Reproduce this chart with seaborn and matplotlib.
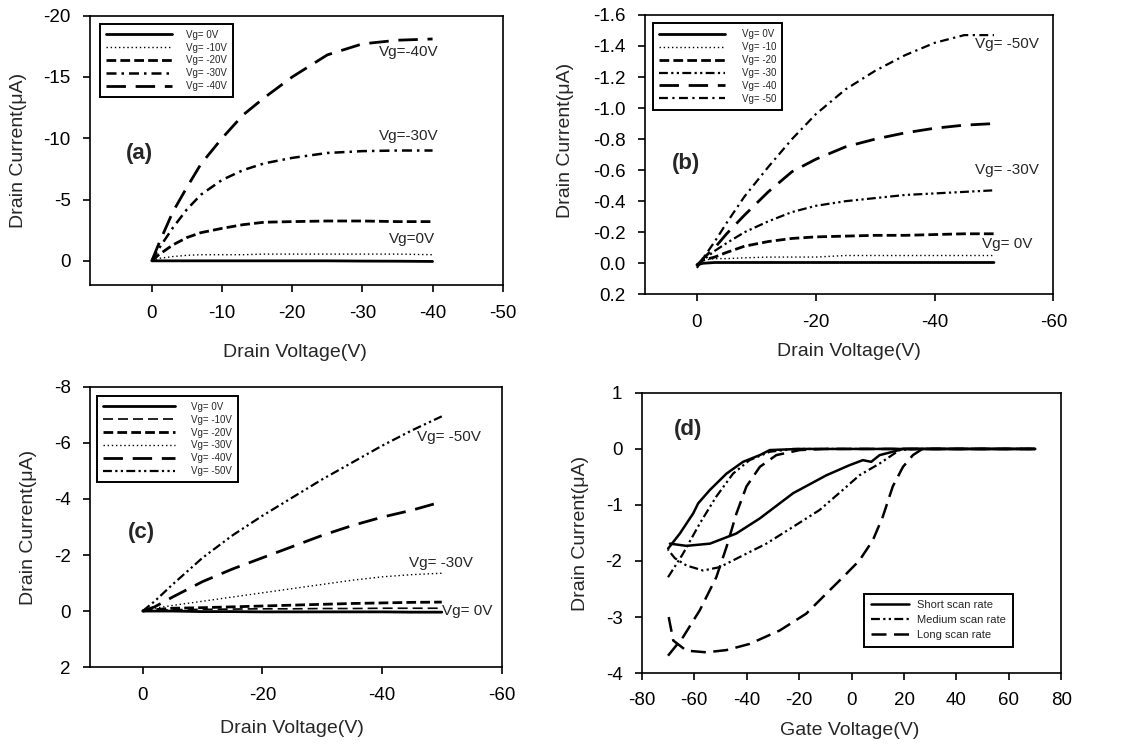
import numpy as np
import pandas as pd
import matplotlib
matplotlib.use("Agg")
import matplotlib.pyplot as plt
import seaborn as sns

sns.set_style("ticks")
plt.rcParams['font.family'] = ['Liberation Sans', 'DejaVu Sans']
plt.rcParams['axes.unicode_minus'] = False

# ---------------- data ----------------
# panel (a)
vd_a = [0, -1, -3, -5, -7, -10, -13, -16, -20, -25, -30, -35, -40]
a_vg0 = [0, 0, 0, 0, 0, 0, 0, 0, 0, 0, 0.02, 0.03, 0.05]
a_vg10 = [0, -0.2, -0.35, -0.45, -0.5, -0.5, -0.5, -0.55, -0.55, -0.55, -0.55, -0.55, -0.5]
a_vg20 = [0, -0.5, -1.3, -1.9, -2.3, -2.65, -2.95, -3.15, -3.2, -3.25, -3.25, -3.2, -3.2]
a_vg30 = [0, -1.0, -2.7, -4.2, -5.4, -6.6, -7.4, -7.95, -8.4, -8.8, -8.95, -9.0, -9.0]
a_vg40 = [0, -1.4, -4.0, -6.0, -7.9, -10.0, -11.9, -13.3, -15.0, -16.8, -17.7, -18.0, -18.1]
labels_a = ["Vg= 0V", "Vg= -10V", "Vg= -20V", "Vg= -30V", "Vg= -40V"]

# panel (b)
vd_b = [0, -1, -3, -5, -8, -12, -16, -20, -25, -30, -35, -40, -45, -50]
b_vg0 = [0.01, 0, -0.005, -0.005, -0.005, -0.005, -0.005, -0.005, -0.005, -0.005, -0.005, -0.005, -0.005, -0.005]
b_vg10 = [0.01, -0.02, -0.03, -0.03, -0.035, -0.04, -0.04, -0.04, -0.05, -0.05, -0.05, -0.05, -0.05, -0.05]
b_vg20 = [0.01, -0.02, -0.04, -0.07, -0.11, -0.14, -0.16, -0.17, -0.175, -0.18, -0.18, -0.185, -0.19, -0.19]
b_vg30 = [0.02, -0.02, -0.08, -0.13, -0.2, -0.27, -0.33, -0.37, -0.40, -0.42, -0.44, -0.45, -0.46, -0.47]
b_vg40 = [0.02, -0.03, -0.1, -0.19, -0.31, -0.46, -0.59, -0.67, -0.75, -0.80, -0.84, -0.87, -0.89, -0.90]
b_vg50 = [0.03, -0.03, -0.14, -0.26, -0.43, -0.62, -0.80, -0.96, -1.12, -1.24, -1.34, -1.42, -1.47, -1.47]
labels_b = ["Vg= 0V", "Vg= -10", "Vg= -20", "Vg= -30", "Vg= -40", "Vg= -50"]

# panel (c)
vd_c = [0, -2, -5, -10, -15, -20, -25, -30, -35, -40, -45, -50]
c_vg0 = [0, 0, 0, 0.02, 0.02, 0.03, 0.03, 0.03, 0.03, 0.03, 0.04, 0.04]
c_vg10 = [0, -0.03, -0.05, -0.06, -0.07, -0.08, -0.08, -0.09, -0.09, -0.1, -0.1, -0.1]
c_vg20 = [0, -0.05, -0.1, -0.12, -0.15, -0.18, -0.21, -0.24, -0.27, -0.29, -0.31, -0.32]
c_vg30 = [0, -0.1, -0.2, -0.35, -0.5, -0.65, -0.8, -0.95, -1.1, -1.22, -1.3, -1.35]
c_vg40 = [0, -0.15, -0.5, -1.05, -1.5, -1.9, -2.3, -2.7, -3.05, -3.35, -3.6, -3.9]
c_vg50 = [0, -0.35, -0.95, -1.9, -2.7, -3.4, -4.05, -4.7, -5.3, -5.9, -6.45, -6.95]
labels_c = ["Vg= 0V", "Vg= -10V", "Vg= -20V", "Vg= -30V", "Vg= -40V", "Vg= -50V"]

# panel (d) transfer curves (two sweep branches each)
short_down_vg = [70, 40, 19.6, 15.7, 10.7, 7.5, 4.3, -0.8, -9.6, -22.3, -35, -44, -54, -63, -69.3]
short_down_id = [0, 0, 0, -0.05, -0.11, -0.23, -0.2, -0.29, -0.47, -0.79, -1.24, -1.51, -1.69, -1.73, -1.69]
short_up_vg = [-70, -65.5, -60.4, -58.5, -54, -47.7, -41.4, -35, -31.2, -20, 70]
short_up_id = [-1.78, -1.51, -1.15, -0.97, -0.73, -0.44, -0.23, -0.11, -0.02, 0, 0]

medium_down_vg = [70, 40, 25, 18.3, 10.7, 3, -3.3, -12.2, -22.3, -32.5, -42.7, -50.3, -56.6, -63, -67.4, -70]
medium_down_id = [0, 0, 0, -0.02, -0.26, -0.47, -0.73, -1.09, -1.39, -1.69, -1.93, -2.11, -2.17, -2.08, -1.95, -1.8]
medium_up_vg = [-70, -64.3, -57.9, -51.6, -45.2, -38.9, -31.2, -22.3, 70]
medium_up_id = [-2.29, -1.87, -1.33, -0.85, -0.44, -0.2, -0.05, 0, 0]

long_down_vg = [70, 27, 23.4, 19.6, 15.7, 11.9, 8.1, 3, -3.3, -9.6, -17.3, -27.4, -38.9, -47.7, -55.4, -63, -68, -70]
long_down_id = [0, 0, -0.11, -0.32, -0.67, -1.21, -1.63, -1.99, -2.29, -2.58, -2.94, -3.24, -3.48, -3.59, -3.63, -3.6, -3.42, -2.94]
long_up_vg = [-70, -64.3, -57.9, -51.6, -47.7, -43.9, -40.1, -35, -28.7, -19.8, -10, 70]
long_up_id = [-3.69, -3.36, -2.88, -2.29, -1.75, -1.15, -0.67, -0.32, -0.11, -0.02, 0, 0]
labels_d = ["Short scan rate", "Medium scan rate", "Long scan rate"]

# ---------------- figure ----------------
fig = plt.figure(figsize=(11.4, 7.47), dpi=100)
axA = fig.add_axes([0.079, 0.618, 0.362, 0.361])
axB = fig.add_axes([0.566, 0.606, 0.358, 0.374])
axC = fig.add_axes([0.079, 0.107, 0.361, 0.375])
axD = fig.add_axes([0.563, 0.099, 0.368, 0.375])

TICK_FS = 13.5
LAB_FS = 14

SOLID = "-"
DOT = (0, (1, 2))
SHORTDASH = (0, (3.5, 1.5))
DASHDOT = (0, (4, 2, 1, 2))
DASHDOTDOT = (0, (4, 1.5, 1, 1.5, 1, 1.5))
LONGDASH = (0, (7, 3.5))
MEDDASH = (0, (6, 3))


def draw_series(ax, x, ys, labels, styles):
    handles = []
    for y, lab, (ls, lw) in zip(ys, labels, styles):
        df = pd.DataFrame({"x": x, "y": y})
        sns.lineplot(data=df, x="x", y="y", ax=ax, color="black", lw=lw,
                     linestyle=ls, sort=False, estimator=None, legend=False)
        handles.append(ax.lines[-1])
    return handles


def style_axes(ax):
    for s in ax.spines.values():
        s.set_linewidth(1.2)
        s.set_color("black")
    ax.tick_params(direction="out", length=5, width=1.2, labelsize=TICK_FS,
                   colors="black", pad=9)
    ax.set_xlabel("")
    ax.set_ylabel("")


def make_legend(ax, handles, labels, anchor, loc, fs, hl, htp, ls):
    leg = ax.legend(handles, labels, loc=loc, bbox_to_anchor=anchor, fontsize=fs,
                    handlelength=hl, handletextpad=htp, labelspacing=ls,
                    frameon=True, fancybox=False, framealpha=1, borderpad=0.6,
                    borderaxespad=0)
    leg.get_frame().set_edgecolor("black")
    leg.get_frame().set_linewidth(1.4)


# ---- (a)
hA = draw_series(axA, vd_a, [a_vg0, a_vg10, a_vg20, a_vg30, a_vg40], labels_a,
                 [(SOLID, 2.0), (DOT, 1.0), (SHORTDASH, 2.0), (DASHDOT, 1.8), (LONGDASH, 2.0)])
style_axes(axA)
axA.set_xlim(8.8, -50)
axA.set_ylim(2, -20)
axA.set_xticks([0, -10, -20, -30, -40, -50])
axA.set_yticks([-20, -15, -10, -5, 0])
make_legend(axA, hA, labels_a, (0.024, 0.97), "upper left", 7, 6.8, 1.5, 0.3)
axA.text(-32.3, -17.0, "Vg=-40V", fontsize=11, va="center", ha="left")
axA.text(-32.3, -10.2, "Vg=-30V", fontsize=11, va="center", ha="left")
axA.text(-33.8, -1.8, "Vg=0V", fontsize=11, va="center", ha="left")
axA.text(0.12, 0.49, "(a)", transform=axA.transAxes, fontsize=16, fontweight="bold",
         ha="center", va="center")
axA.set_xlabel("Drain Voltage(V)", fontsize=LAB_FS)
axA.set_ylabel("Drain Current(\u03bcA)", fontsize=LAB_FS)
axA.xaxis.set_label_coords(0.496, -0.216)
axA.yaxis.set_label_coords(-0.153, 0.5)

# ---- (b)
hB = draw_series(axB, vd_b, [b_vg0, b_vg10, b_vg20, b_vg30, b_vg40, b_vg50], labels_b,
                 [(SOLID, 2.0), (DOT, 1.0), (SHORTDASH, 2.0), (DASHDOTDOT, 1.6),
                  (LONGDASH, 2.0), (DASHDOT, 1.6)])
style_axes(axB)
axB.set_xlim(8.7, -60)
axB.set_ylim(0.2, -1.6)
axB.set_xticks([0, -20, -40, -60])
b_ticks = [-1.6, -1.4, -1.2, -1.0, -0.8, -0.6, -0.4, -0.2, 0.0, 0.2]
axB.set_yticks(b_ticks)
axB.set_yticklabels([f"{v:.1f}" for v in b_ticks])
make_legend(axB, hB, labels_b, (0.02, 0.97), "upper left", 7, 6.8, 1.7, 0.3)
axB.text(-46.8, -1.41, "Vg= -50V", fontsize=11, va="center", ha="left")
axB.text(-46.8, -0.60, "Vg= -30V", fontsize=11, va="center", ha="left")
axB.text(-48.0, -0.126, "Vg= 0V", fontsize=11, va="center", ha="left")
axB.text(0.10, 0.47, "(b)", transform=axB.transAxes, fontsize=16, fontweight="bold",
         ha="center", va="center")
axB.set_xlabel("Drain Voltage(V)", fontsize=LAB_FS)
axB.set_ylabel("Drain Current(\u03bcA)", fontsize=LAB_FS)
axB.xaxis.set_label_coords(0.5, -0.176)
axB.yaxis.set_label_coords(-0.174, 0.55)

# ---- (c)
hC = draw_series(axC, vd_c, [c_vg0, c_vg10, c_vg20, c_vg30, c_vg40, c_vg50], labels_c,
                 [(SOLID, 2.0), (MEDDASH, 1.2), (SHORTDASH, 2.0), (DOT, 1.0),
                  (LONGDASH, 2.0), (DASHDOTDOT, 1.6)])
style_axes(axC)
axC.set_xlim(8.8, -60)
axC.set_ylim(2, -8)
axC.set_xticks([0, -20, -40, -60])
axC.set_yticks([-8, -6, -4, -2, 0, 2])
make_legend(axC, hC, labels_c, (0.017, 0.968), "upper left", 7, 7.4, 1.7, 0.3)
axC.text(-45.8, -6.2, "Vg= -50V", fontsize=11, va="center", ha="left")
axC.text(-44.5, -1.71, "Vg= -30V", fontsize=11, va="center", ha="left")
axC.text(-50.0, 0.0, "Vg= 0V", fontsize=11, va="center", ha="left")
axC.text(0.126, 0.48, "(c)", transform=axC.transAxes, fontsize=16, fontweight="bold",
         ha="center", va="center")
axC.set_xlabel("Drain Voltage(V)", fontsize=LAB_FS)
axC.set_ylabel("Drain Current(\u03bcA)", fontsize=LAB_FS)
axC.xaxis.set_label_coords(0.49, -0.19)
axC.yaxis.set_label_coords(-0.129, 0.5)

# ---- (d)
d_styles = [(SOLID, 1.8), (DASHDOTDOT, 1.6), (MEDDASH, 1.8)]
branches = [
    [(short_down_vg, short_down_id), (short_up_vg, short_up_id)],
    [(medium_down_vg, medium_down_id), (medium_up_vg, medium_up_id)],
    [(long_down_vg, long_down_id), (long_up_vg, long_up_id)],
]
hD = []
for br, (ls, lw) in zip(branches, d_styles):
    for i, (xv, yv) in enumerate(br):
        df = pd.DataFrame({"x": xv, "y": yv})
        sns.lineplot(data=df, x="x", y="y", ax=axD, color="black", lw=lw,
                     linestyle=ls, sort=False, estimator=None, legend=False)
        if i == 0:
            hD.append(axD.lines[-1])
style_axes(axD)
axD.set_xlim(-80, 80)
axD.set_ylim(-4, 1)
axD.set_xticks(list(range(-80, 81, 20)))
axD.set_yticks([1, 0, -1, -2, -3, -4])
make_legend(axD, hD, labels_d, (0.53, 0.093), "lower left", 8, 3.4, 0.8, 0.45)
axD.text(0.11, 0.87, "(d)", transform=axD.transAxes, fontsize=16, fontweight="bold",
         ha="center", va="center")
axD.set_xlabel("Gate Voltage(V)", fontsize=LAB_FS)
axD.set_ylabel("Drain Current(\u03bcA)", fontsize=LAB_FS)
axD.xaxis.set_label_coords(0.495, -0.175)
axD.yaxis.set_label_coords(-0.126, 0.5)

fig.savefig("out.png", dpi=100, facecolor="white")
